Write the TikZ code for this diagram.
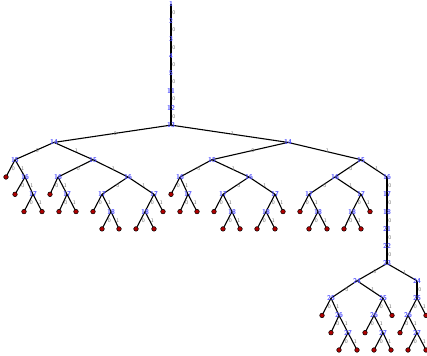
\documentclass[tikz,border=0pt]{standalone}
\usetikzlibrary{backgrounds}
\definecolor{varblue}{RGB}{80,80,255}
\definecolor{leafred}{RGB}{175,0,0}

\begin{document}
\begin{tikzpicture}[
    x=1pt, y=-1pt,
    % node styles
    var/.style    = {inner sep=0pt, text=varblue,
                     font=\fontsize{7}{7}\selectfont\sffamily\bfseries},
    leaf/.style   = {circle, draw=black, fill=leafred, line width=0.5pt,
                     minimum size=4.6pt, inner sep=0pt},
    % edges
    link/.style   = {line width=1.1pt, black},
    elabel/.style = {font=\fontsize{5.5}{6}\selectfont\sffamily, text=black!55,
                     inner sep=0.7pt, anchor=west, midway}
  ]
\useasboundingbox (0,0) rectangle (427,355);

% ============================================================
% Variable nodes: name / x / level / variable
% ============================================================

% Top chain and the two 14-nodes
\foreach \n/\x/\k/\v in {v1/171/0/1, v2/171/1/2, v3/171/2/3, v4/171/3/4,
    v5/171/4/5, v11/171/5/11, v12/171/6/12, v13/171/7/13,
    a/54/8/14, b/288/8/14}
  \node[var] (\n) at (\x, {4+17.3*\k}) {\v};

% Left 14 subtree
\foreach \n/\x/\k/\v in {a0/15/9/15, a1/93/9/15,
    a01/25/10/16, a011/33/11/17,
    a10/58/10/16, a101/67/11/17,
    a11/128/10/16, a110/102/11/17, a111/154/11/17,
    a1101/111/12/18, a1110/145/12/18}
  \node[var] (\n) at (\x, {4+17.3*\k}) {\v};

% Right 14 subtree
\foreach \n/\x/\k/\v in {b0/212/9/15, b1/361/9/15,
    b00/180/10/16, b001/188/11/17,
    b01/249/10/16, b010/223/11/17, b011/275/11/17,
    b0101/232/12/18, b0110/266/12/18,
    b10/335/10/16, b100/309/11/17, b101/361/11/17,
    b1001/318/12/18, b1010/352/12/18, b11/387/10/16,
    c17/387/11/17, c18/387/12/18, c21/387/13/21, c22/387/14/22, c23/387/15/23,
    d0/357/16/24, d1/417/16/24,
    d00/331/17/25, d001/339/18/26, d0011/348/19/27,
    d01/383/17/25, d010/374/18/26, d0101/383/19/27,
    d10/417/17/25, d100/408/18/26, d1001/417/19/27}
  \node[var] (\n) at (\x, {4+17.3*\k}) {\v};

% ============================================================
% Terminal leaves: name / x / level
% ============================================================
\foreach \n/\x/\k in {a00/6/10, a010/15/11, a0110/24/12, a0111/42/12,
    a100/50/11, a1010/59/12, a1011/76/12,
    a1100/93/12, a11010/102/13, a11011/119/13,
    a11100/136/13, a11101/154/13, a1111/163/12,
    b000/171/11, b0010/180/12, b0011/197/12,
    b0100/214/12, b01010/223/13, b01011/240/13,
    b01100/257/13, b01101/275/13, b0111/283/12,
    b1000/300/12, b10010/309/13, b10011/327/13,
    b10100/344/13, b10101/361/13, b1011/370/12,
    d000/322/18, d0010/331/19, d00110/339/20, d00111/357/20,
    d0100/365/19, d01010/374/20, d01011/391/20, d011/392/18,
    d1000/400/19, d10010/408/20, d10011/426/20, d101/426/18}
  \node[leaf] (\n) at (\x, {4+17.3*\k}) {};

% ============================================================
% Edges: parent / child / branch value
% ============================================================
\begin{scope}[on background layer]
\foreach \p/\c/\l in {v1/v2/0, v2/v3/0, v3/v4/0, v4/v5/0, v5/v11/0,
    v11/v12/0, v12/v13/0, v13/a/0, v13/b/1,
    % left 14
    a/a0/0, a/a1/1,
    a0/a00/0, a0/a01/1, a01/a010/0, a01/a011/1, a011/a0110/0, a011/a0111/1,
    a1/a10/0, a1/a11/1, a10/a100/0, a10/a101/1, a101/a1010/0, a101/a1011/1,
    a11/a110/0, a11/a111/1, a110/a1100/0, a110/a1101/1,
    a1101/a11010/0, a1101/a11011/1,
    a111/a1110/0, a111/a1111/1, a1110/a11100/0, a1110/a11101/1,
    % right 14
    b/b0/0, b/b1/1,
    b0/b00/0, b0/b01/1, b00/b000/0, b00/b001/1, b001/b0010/0, b001/b0011/1,
    b01/b010/0, b01/b011/1, b010/b0100/0, b010/b0101/1,
    b0101/b01010/0, b0101/b01011/1,
    b011/b0110/0, b011/b0111/1, b0110/b01100/0, b0110/b01101/1,
    b1/b10/0, b1/b11/1, b10/b100/0, b10/b101/1, b100/b1000/0, b100/b1001/1,
    b1001/b10010/0, b1001/b10011/1,
    b101/b1010/0, b101/b1011/1, b1010/b10100/0, b1010/b10101/1,
    % chain down to 23
    b11/c17/0, c17/c18/0, c18/c21/0, c21/c22/0, c22/c23/0,
    c23/d0/0, c23/d1/1,
    d0/d00/0, d0/d01/1, d00/d000/0, d00/d001/1, d001/d0010/0, d001/d0011/1,
    d0011/d00110/0, d0011/d00111/1,
    d01/d010/0, d01/d011/1, d010/d0100/0, d010/d0101/1,
    d0101/d01010/0, d0101/d01011/1,
    d1/d10/0, d10/d100/0, d10/d101/1, d100/d1000/0, d100/d1001/1,
    d1001/d10010/0, d1001/d10011/1}
  \draw[link] (\p.center) -- node[elabel] {\l} (\c.center);
\end{scope}

\end{tikzpicture}
\end{document}
